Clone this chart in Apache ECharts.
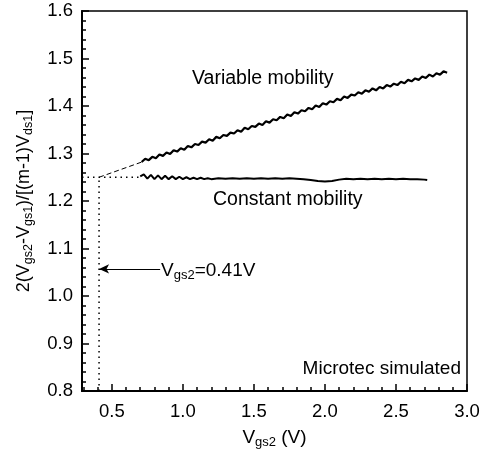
<!DOCTYPE html>
<html>
<head>
<meta charset="utf-8">
<script src="https://cdn.jsdelivr.net/npm/echarts@6/dist/echarts.min.js"></script>
<style>
  html, body { margin: 0; padding: 0; background: #fff; }
  #chart { width: 490px; height: 458px; }
</style>
</head>
<body>
<div id="chart"></div>
<script>
// axis ticks
const xMajor = [0.5, 1.0, 1.5, 2.0, 2.5, 3.0];
const xMinor = [0.3, 0.4, 0.6, 0.7, 0.8, 0.9, 1.1, 1.2, 1.3, 1.4, 1.6, 1.7, 1.8, 1.9,
  2.1, 2.2, 2.3, 2.4, 2.6, 2.7, 2.8, 2.9];

// variable mobility curve (wiggles included)
const variableMobility = [
  [0.710, 1.282], [0.735, 1.289], [0.760, 1.286], [0.785, 1.293], [0.810, 1.290],
  [0.835, 1.298], [0.860, 1.295], [0.885, 1.302], [0.910, 1.299], [0.935, 1.307],
  [0.960, 1.304], [0.985, 1.311], [1.010, 1.308], [1.035, 1.316], [1.060, 1.313],
  [1.085, 1.320], [1.110, 1.318], [1.135, 1.325], [1.160, 1.323], [1.185, 1.330],
  [1.210, 1.327], [1.235, 1.335], [1.260, 1.332], [1.285, 1.339], [1.310, 1.337],
  [1.335, 1.344], [1.360, 1.342], [1.385, 1.349], [1.410, 1.346], [1.435, 1.354],
  [1.460, 1.351], [1.485, 1.358], [1.510, 1.356], [1.535, 1.363], [1.560, 1.360],
  [1.585, 1.368], [1.610, 1.365], [1.635, 1.372], [1.660, 1.370], [1.685, 1.377],
  [1.710, 1.374], [1.735, 1.382], [1.760, 1.379], [1.785, 1.387], [1.810, 1.384],
  [1.835, 1.391], [1.860, 1.389], [1.885, 1.396], [1.910, 1.393], [1.935, 1.401],
  [1.960, 1.398], [1.985, 1.406], [2.010, 1.403], [2.035, 1.410], [2.060, 1.408],
  [2.085, 1.415], [2.110, 1.412], [2.135, 1.420], [2.160, 1.417], [2.185, 1.424],
  [2.210, 1.422], [2.235, 1.429], [2.260, 1.426], [2.285, 1.433], [2.310, 1.430],
  [2.335, 1.437], [2.360, 1.433], [2.385, 1.440], [2.410, 1.437], [2.435, 1.444],
  [2.460, 1.441], [2.485, 1.447], [2.510, 1.444], [2.535, 1.451], [2.560, 1.448],
  [2.585, 1.455], [2.610, 1.452], [2.635, 1.458], [2.660, 1.455], [2.685, 1.462],
  [2.710, 1.459], [2.735, 1.466], [2.760, 1.462], [2.785, 1.469], [2.810, 1.466],
  [2.835, 1.473], [2.860, 1.470]
];

// constant mobility curve
const constantMobility = [
  [0.700, 1.252], [0.725, 1.256], [0.750, 1.247], [0.775, 1.255], [0.800, 1.246],
  [0.825, 1.254], [0.850, 1.246], [0.875, 1.253], [0.900, 1.246], [0.925, 1.252],
  [0.950, 1.246], [0.975, 1.251], [1.000, 1.246], [1.025, 1.250], [1.050, 1.246],
  [1.075, 1.249], [1.100, 1.246], [1.125, 1.249], [1.150, 1.246], [1.175, 1.248],
  [1.200, 1.246], [1.250, 1.248], [1.300, 1.247], [1.350, 1.248], [1.400, 1.247],
  [1.450, 1.248], [1.500, 1.247], [1.550, 1.248], [1.600, 1.247], [1.650, 1.248],
  [1.700, 1.247], [1.750, 1.248], [1.800, 1.247], [1.850, 1.246], [1.900, 1.244],
  [1.950, 1.242], [2.000, 1.241], [2.050, 1.242], [2.100, 1.245], [2.150, 1.247],
  [2.200, 1.246], [2.250, 1.247], [2.300, 1.246], [2.350, 1.247], [2.400, 1.246],
  [2.450, 1.247], [2.500, 1.246], [2.550, 1.247], [2.600, 1.246], [2.650, 1.246],
  [2.700, 1.245], [2.720, 1.244]
];

// guide lines for the extrapolated Vgs2
const extrapolation = [[0.41, 1.25], [0.71, 1.282]];
const guideH = [[0.29, 1.25], [0.70, 1.25]];
const guideV = [[0.41, 0.8], [0.41, 1.25]];
const arrowFrom = [0.84, 1.057];
const arrowTo = [0.41, 1.057];

const font = "'Liberation Sans', Arial, sans-serif";

const chart = echarts.init(document.getElementById('chart'));

chart.setOption({
  animation: false,
  grid: {
    left: 82, right: 23, top: 11, bottom: 67,
    show: true, borderColor: '#000', borderWidth: 1.5
  },
  xAxis: [
    {
      type: 'value', min: 0.29, max: 3.0,
      axisLine: { lineStyle: { color: '#000', width: 2 } },
      axisTick: { inside: true, length: 7, customValues: xMajor, lineStyle: { color: '#000', width: 1.5 } },
      axisLabel: {
        customValues: xMajor, margin: 11, color: '#000', fontSize: 18.5, fontFamily: font,
        formatter: v => v.toFixed(1)
      },
      splitLine: { show: false },
      name: '{a|V}{s|gs2}{a| (V)}',
      nameLocation: 'middle', nameGap: 36,
      nameTextStyle: {
        rich: {
          a: { fontSize: 19, fontFamily: font, color: '#000', lineHeight: 22 },
          s: { fontSize: 13, fontFamily: font, color: '#000', lineHeight: 22, verticalAlign: 'bottom', padding: [8, 0, 0, 0] }
        }
      }
    },
    {
      type: 'value', min: 0.29, max: 3.0, position: 'bottom',
      axisLine: { show: false },
      axisTick: { inside: true, length: 4, customValues: xMinor, lineStyle: { color: '#000', width: 1.5 } },
      axisLabel: { show: false },
      splitLine: { show: false }
    }
  ],
  yAxis: {
    type: 'value', min: 0.8, max: 1.6, interval: 0.1,
    axisLine: { show: true, lineStyle: { color: '#000', width: 2 } },
    axisTick: { show: true, inside: true, length: 7, lineStyle: { color: '#000', width: 1.5 } },
    minorTick: { show: true, splitNumber: 5, length: 4, lineStyle: { color: '#000', width: 1.5 } },
    axisLabel: { margin: 9, color: '#000', fontSize: 18.5, fontFamily: font, formatter: v => v.toFixed(1) },
    splitLine: { show: false },
    name: '{a|2(V}{s|gs2}{a|-V}{s|gs1}{a|)/[(m-1)V}{s|ds1}{a|]}',
    nameLocation: 'middle', nameGap: 47, nameRotate: 90,
    nameTextStyle: {
      rich: {
        a: { fontSize: 18, fontFamily: font, color: '#000', lineHeight: 22 },
        s: { fontSize: 12.5, fontFamily: font, color: '#000', lineHeight: 22, verticalAlign: 'bottom', padding: [8, 0, 0, 0] }
      }
    }
  },
  series: [
    {
      type: 'line', data: variableMobility, showSymbol: false,
      lineStyle: { color: '#000', width: 2.2 }
    },
    {
      type: 'line', data: constantMobility, showSymbol: false,
      lineStyle: { color: '#000', width: 2 }
    },
    {
      type: 'line', data: extrapolation, showSymbol: false,
      lineStyle: { color: '#000', width: 1, type: [5, 3] }
    },
    {
      type: 'line', data: guideH, showSymbol: false,
      lineStyle: { color: '#000', width: 1.5, type: [1.5, 4] }
    },
    {
      type: 'line', data: guideV, showSymbol: false,
      lineStyle: { color: '#000', width: 1.5, type: [1.5, 4] },
      markLine: {
        silent: true, symbol: ['none', 'arrow'], symbolSize: [7, 10],
        label: { show: false },
        lineStyle: { color: '#000', width: 1, type: 'solid' },
        data: [[{ coord: arrowFrom }, { coord: arrowTo }]]
      }
    }
  ],
  graphic: [
    {
      type: 'text', x: 192, y: 79,
      style: { text: 'Variable mobility', font: '19.5px ' + font, fill: '#000', align: 'left', verticalAlign: 'middle' }
    },
    {
      type: 'text', x: 213, y: 200,
      style: { text: 'Constant mobility', font: '19.5px ' + font, fill: '#000', align: 'left', verticalAlign: 'middle' }
    },
    {
      type: 'text', x: 461, y: 369,
      style: { text: 'Microtec simulated', font: '19px ' + font, fill: '#000', align: 'right', verticalAlign: 'middle' }
    },
    {
      type: 'text', x: 161, y: 271,
      style: {
        text: '{a|V}{s|gs2}{a|=0.41V}', verticalAlign: 'middle',
        rich: {
          a: { fontSize: 19, fontFamily: font, fill: '#000', lineHeight: 22 },
          s: { fontSize: 13, fontFamily: font, fill: '#000', lineHeight: 22, verticalAlign: 'bottom', padding: [8, 0, 0, 0] }
        }
      }
    }
  ]
});
</script>
</body>
</html>
